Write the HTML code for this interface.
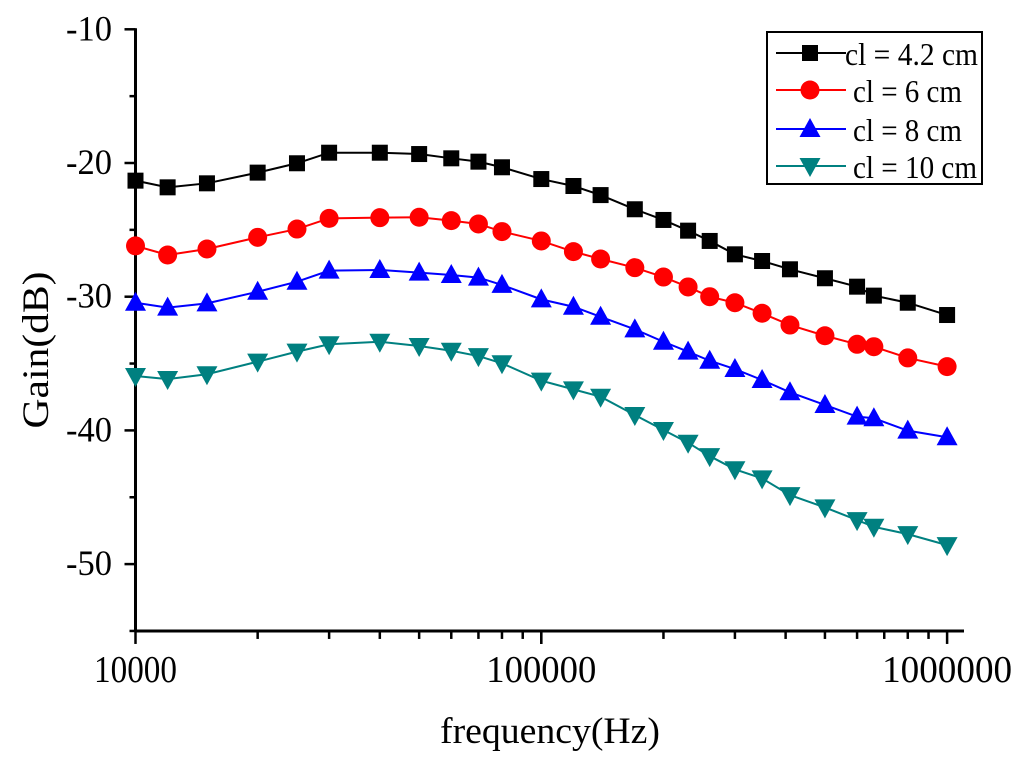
<!DOCTYPE html>
<html><head><meta charset="utf-8"><style>
body{margin:0;background:#fff}
svg{display:block;font-family:"Liberation Serif",serif}
</style></head><body>
<svg id="chart" width="1024" height="768">
<g id="axes"></g><g id="series"></g><g id="legend"></g>
</svg>
<script>
const freqs=[10000,12000,15000,20000,25000,30000,40000,50000,60000,70000,80000,100000,120000,140000,170000,200000,230000,260000,300000,350000,410000,500000,600000,660000,800000,1000000];
const gain42=[-21.32,-21.82,-21.52,-20.72,-20.02,-19.23,-19.23,-19.33,-19.65,-19.9,-20.32,-21.2,-21.72,-22.4,-23.46,-24.26,-25.06,-25.83,-26.83,-27.33,-27.95,-28.62,-29.25,-29.92,-30.45,-31.37];
const gain6=[-26.2,-26.88,-26.43,-25.56,-24.94,-24.14,-24.09,-24.06,-24.31,-24.56,-25.13,-25.83,-26.63,-27.18,-27.83,-28.53,-29.27,-30.0,-30.45,-31.24,-32.12,-32.92,-33.56,-33.74,-34.58,-35.23];
const gain8=[-30.45,-30.82,-30.5,-29.63,-28.88,-28.05,-28.0,-28.2,-28.38,-28.57,-29.12,-30.2,-30.75,-31.5,-32.44,-33.37,-34.11,-34.79,-35.41,-36.23,-37.15,-38.1,-38.97,-39.09,-40.02,-40.51];
const gain10=[-35.93,-36.16,-35.8,-34.86,-34.11,-33.56,-33.37,-33.69,-34.04,-34.44,-34.98,-36.28,-36.93,-37.48,-38.85,-39.97,-40.92,-41.92,-42.91,-43.59,-44.84,-45.76,-46.71,-47.21,-47.76,-48.58];
const seriesNames=["cl = 4.2 cm","cl = 6 cm","cl = 8 cm","cl = 10 cm"];
const yTicks=[-10,-20,-30,-40,-50];
const xTicks=[10000,100000,1000000];

const NS="http://www.w3.org/2000/svg";
const X0=135.5,DEC=405.8,Y0=29.3,PDB=13.37;
function xs(f){return X0+Math.log10(f/10000)*DEC;}
function ys(v){return Y0+(-10-v)*PDB;}
function mk(tag,attrs,parent){const e=document.createElementNS(NS,tag);for(const k in attrs)e.setAttribute(k,attrs[k]);parent.appendChild(e);return e;}
const axes=document.getElementById('axes');
const AXB=ys(-55);
let yl=mk('line',{x1:X0,y1:Y0-1,x2:X0,y2:AXB+1,stroke:'#000','stroke-width':3},axes);


let xl=mk('line',{x1:X0-1,y1:AXB,x2:964,y2:AXB,stroke:'#000','stroke-width':3},axes);


for(let v=-10;v>=-55;v-=5){
  const major=v%10===0;
  mk('line',{x1:X0-(major?11:6),y1:ys(v),x2:X0,y2:ys(v),stroke:'#000','stroke-width':2.5},axes);
}
yTicks.forEach(v=>{
  const t=mk('text',{x:112,y:ys(v)+11,'text-anchor':'end','font-size':36,textLength:46,lengthAdjust:'spacingAndGlyphs'},axes);
  t.textContent=v;
  
  
});
for(let d=10000;d<1000000;d*=10){
  for(let m=1;m<=10;m++){
    const f=d*m;const major=(m===1||m===10);
    mk('line',{x1:xs(f),y1:AXB,x2:xs(f),y2:AXB+(major?13:8),stroke:'#000','stroke-width':2.5},axes);
  }
}
const xTickW=[83,110,130];
xTicks.forEach((f,i)=>{
  const t=mk('text',{x:xs(f),y:682,'text-anchor':'middle','font-size':38,textLength:xTickW[i],lengthAdjust:'spacingAndGlyphs'},axes);
  t.textContent=f;
  
  
});
let yt=mk('text',{x:0,y:0,'text-anchor':'middle','font-size':37,textLength:157,lengthAdjust:'spacingAndGlyphs',transform:'translate(48,350) rotate(-90)'},axes);
yt.textContent='Gain(dB)';


let xt=mk('text',{x:550,y:743,'text-anchor':'middle','font-size':37,textLength:220,lengthAdjust:'spacingAndGlyphs'},axes);
xt.textContent='frequency(Hz)';



const colors=['#000000','#ff0000','#0000ff','#008080'];
const shapes=['square','circle','up','down'];
function marker(g,shape,x,y,c){
  let e;
  if(shape==='square')e=mk('rect',{x:x-8,y:y-8,width:16,height:16,fill:c},g);
  else if(shape==='circle')e=mk('circle',{cx:x,cy:y,r:9.5,fill:c},g);
  else if(shape==='up')e=mk('polygon',{points:`${x},${y-11} ${x-10.5},${y+8} ${x+10.5},${y+8}`,fill:c},g);
  else e=mk('polygon',{points:`${x},${y+11} ${x-10.5},${y-8} ${x+10.5},${y-8}`,fill:c},g);
  return e;
}
const sg=document.getElementById('series');
[gain42,gain6,gain8,gain10].forEach((vals,i)=>{
  const g=mk('g',{},sg);
  
  
  const pts=freqs.map((f,j)=>xs(f)+','+ys(vals[j])).join(' ');
  mk('polyline',{points:pts,fill:'none',stroke:colors[i],'stroke-width':2},g);
  freqs.forEach((f,j)=>{
    const m=marker(g,shapes[i],xs(f),ys(vals[j]),colors[i]);
    
    
  });
});
const lg=document.getElementById('legend');


mk('rect',{x:767,y:32,width:215,height:152,fill:'#fff',stroke:'#000','stroke-width':2},lg);
const rowY=[53,90,129,166];
const legW=[133,109,109,124];
seriesNames.forEach((n,i)=>{
  const g=mk('g',{},lg);
  
  
  mk('line',{x1:776,y1:rowY[i],x2:846,y2:rowY[i],stroke:colors[i],'stroke-width':2},g);
  marker(g,shapes[i],810,rowY[i],colors[i]);
  const t=mk('text',{x:i===0?845:853,y:rowY[i]+12,'font-size':32,textLength:legW[i],lengthAdjust:'spacingAndGlyphs'},g);
  t.textContent=n;
});
</script>
</body></html>
